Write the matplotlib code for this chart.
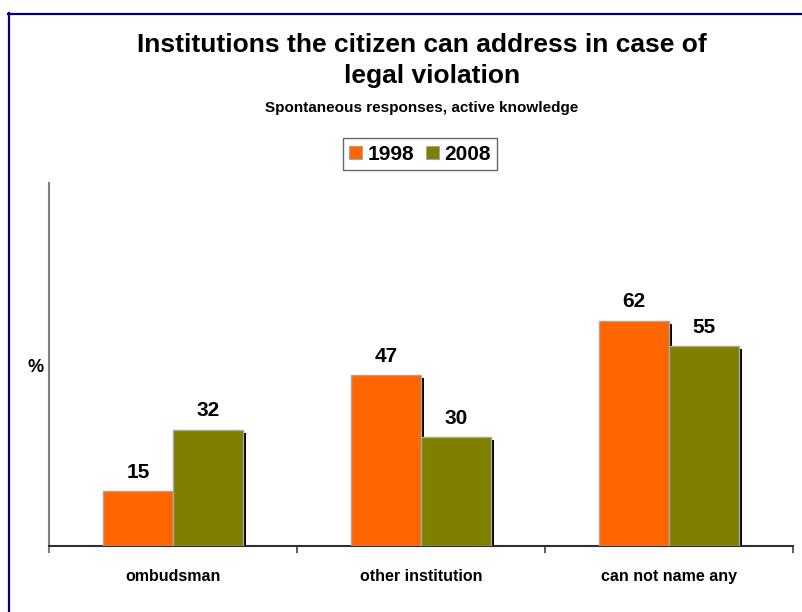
import matplotlib
matplotlib.use('Agg')
import matplotlib.pyplot as plt
import matplotlib.patheffects as pe
from matplotlib.lines import Line2D
from matplotlib.patches import Patch
import numpy as np

plt.rcParams['font.family'] = ['Liberation Sans', 'DejaVu Sans']

categories = ['ombudsman', 'other institution', 'can not name any']
years = ['1998', '2008']
values_1998 = [15, 47, 62]
values_2008 = [32, 30, 55]
colors = ['#FF6600', '#808000']

fig = plt.figure(figsize=(8.03, 6.12), dpi=100)
ax = fig.add_axes([0.061, 0.108, 0.9265, 0.593])

x = np.arange(len(categories)) + 0.5
width = 0.282
shadow = [pe.SimplePatchShadow(offset=(2.2, -2.2), shadow_rgbFace='black', alpha=1.0),
          pe.Normal()]

for offset, vals, color in [(-width / 2, values_1998, colors[0]),
                            (width / 2, values_2008, colors[1])]:
    bars = ax.bar(x + offset, vals, width, color=color, edgecolor='#a6a6a6',
                  linewidth=1.0, zorder=3)
    for b, v in zip(bars, vals):
        b.set_path_effects(shadow)
        ax.text(b.get_x() + b.get_width() / 2, v + 2.6, str(v), ha='center',
                va='bottom', fontsize=15, fontweight='bold')

ax.set_xlim(0, 3)
ax.set_ylim(0, 100)
ax.set_xticks([0, 1, 2, 3])
ax.set_xticklabels([])
ax.tick_params(axis='x', direction='out', length=5, width=1.2, color='#404040')
ax.set_yticks([])
for cx, label in zip(x, categories):
    ax.text(cx, -8.5, label, ha='center', va='center', fontsize=11.5,
            fontweight='bold')

ax.spines['top'].set_visible(False)
ax.spines['right'].set_visible(False)
ax.spines['left'].set_color('#808080')
ax.spines['left'].set_linewidth(1.5)
ax.spines['bottom'].set_color('#303030')
ax.spines['bottom'].set_linewidth(1.5)
ax.spines['left'].set_bounds(-1.6, 100)
ax.spines['left'].set_clip_on(False)

fig.text(36 / 803, 1 - 367 / 612, '%', ha='center', va='center', fontsize=13,
         fontweight='bold')

# titles
fig.text(422 / 803, 1 - 45 / 612, 'Institutions the citizen can address in case of',
         ha='center', va='center', fontsize=19, fontweight='bold')
fig.text(432 / 803, 1 - 76 / 612, 'legal violation', ha='center', va='center',
         fontsize=19, fontweight='bold')
fig.text(422 / 803, 1 - 108 / 612, 'Spontaneous responses, active knowledge',
         ha='center', va='center', fontsize=11, fontweight='bold')

handles = [Patch(facecolor=c, edgecolor='#a6a6a6', linewidth=0.8) for c in colors]
leg = fig.legend(handles, years, loc='center', bbox_to_anchor=(420 / 803, 1 - 154 / 612),
                 ncol=2, frameon=True, fancybox=False, handlelength=0.6,
                 handleheight=0.6, handletextpad=0.25, columnspacing=0.6,
                 borderpad=0.3, prop={'weight': 'bold', 'size': 15})
leg.get_frame().set_edgecolor('#404040')
leg.get_frame().set_linewidth(1.0)

# page frame
fig.add_artist(Line2D([8.5 / 803, 8.5 / 803], [0, 1 - 13 / 612], transform=fig.transFigure,
                      color='#000080', linewidth=1.6))
fig.add_artist(Line2D([8 / 803, 1], [1 - 13.5 / 612, 1 - 13.5 / 612], transform=fig.transFigure,
                      color='#000080', linewidth=1.6))

fig.savefig('out.png', dpi=100)
